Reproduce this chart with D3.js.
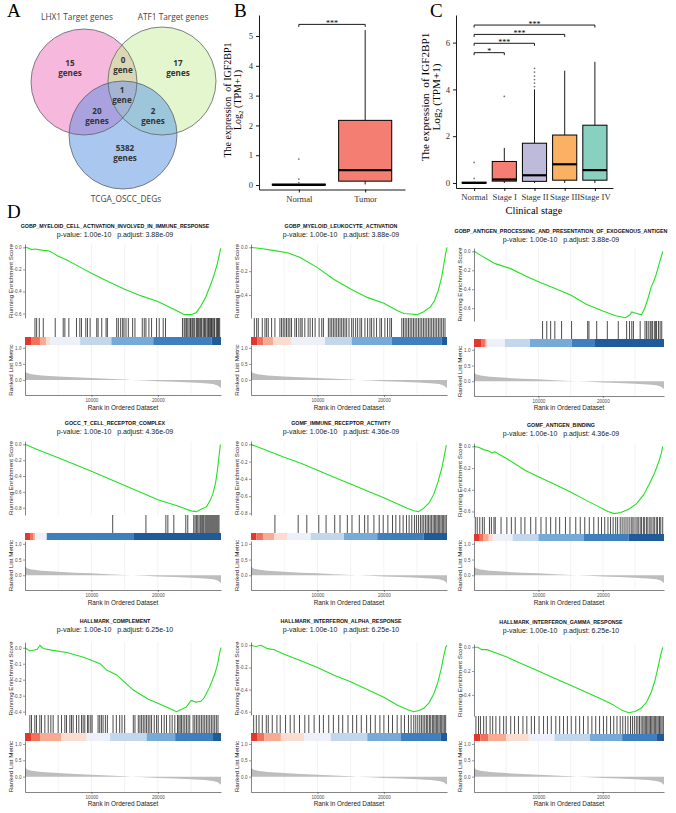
<!DOCTYPE html>
<html>
<head>
<meta charset="utf-8">
<script src="https://cdn.jsdelivr.net/npm/d3@7/dist/d3.min.js"></script>
<style>
html,body{margin:0;padding:0;background:#fff;}
svg{display:block;}
</style>
</head>
<body>
<svg id="fig" width="676" height="813" xmlns="http://www.w3.org/2000/svg"></svg>
<script>
// ======================= DATA =======================
// Panel A – Venn
const vennSetNames = ["LHX1 Target genes", "ATF1 Target genes", "TCGA_OSCC_DEGs"];
const vennRegions  = ["LHX1", "ATF1", "TCGA", "LHX1&ATF1", "LHX1&TCGA", "ATF1&TCGA", "LHX1&ATF1&TCGA"];
const vennCounts   = [15, 17, 5382, 0, 20, 2, 1];

// Panel B
const bGroups = ["Normal", "Tumor"];
const bLow  = [0, 0.02];
const bQ1   = [0, 0.13];
const bMed  = [0.005, 0.5];
const bQ3   = [0.03, 2.17];
const bHigh = [0.05, 5.2];
const bOutliers = [[0.87, 0.2, 0.08], []];
const bYTicks = [0, 1, 2, 3, 4, 5];
const bComparisons = [["Normal", "Tumor", "***", 5.39]];

// Panel C
const cGroups = ["Normal", "Stage I", "Stage II", "Stage III", "Stage IV"];
const cLow  = [0, 0, 0, 0, 0];
const cQ1   = [0, 0.08, 0.07, 0.12, 0.12];
const cMed  = [0.005, 0.15, 0.33, 0.8, 0.55];
const cQ3   = [0.03, 0.92, 1.7, 2.05, 2.47];
const cHigh = [0.05, 1.5, 4.0, 4.8, 5.18];
const cOutliers = [[0.88, 0.2], [3.7], [4.12, 4.27, 4.42, 4.57, 4.74, 4.9], [], []];
const cYTicks = [0, 2, 4, 6];
const cComparisons = [
  ["Normal", "Stage I", "*", 5.57],
  ["Normal", "Stage II", "***", 5.97],
  ["Normal", "Stage III", "***", 6.35],
  ["Normal", "Stage IV", "***", 6.75]
];

// Panel D – GSEA
const gseaTitles = [
  "GOBP_MYELOID_CELL_ACTIVATION_INVOLVED_IN_IMMUNE_RESPONSE",
  "GOBP_MYELOID_LEUKOCYTE_ACTIVATION",
  "GOBP_ANTIGEN_PROCESSING_AND_PRESENTATION_OF_EXOGENOUS_ANTIGEN",
  "GOCC_T_CELL_RECEPTOR_COMPLEX",
  "GOMF_IMMUNE_RECEPTOR_ACTIVITY",
  "GOMF_ANTIGEN_BINDING",
  "HALLMARK_COMPLEMENT",
  "HALLMARK_INTERFERON_ALPHA_RESPONSE",
  "HALLMARK_INTERFERON_GAMMA_RESPONSE"
];
const gseaPValue  = ["1.00e-10","1.00e-10","1.00e-10","1.00e-10","1.00e-10","1.00e-10","1.00e-10","1.00e-10","1.00e-10"];
const gseaPAdjust = ["3.88e-09","3.88e-09","3.88e-09","4.36e-09","4.36e-09","4.36e-09","6.25e-10","6.25e-10","6.25e-10"];
const datasetSize = 29500;
const rankXTicks = [10000, 20000];
const rankGrid = [5000, 10000, 15000, 20000, 25000];
const metricTicks = [0, 0.5, 1.0];
const metricDomain = [-0.47, 1.09];

// ranked list metric (shared by all panels)
const rankedMetric = [[0,0.28],[300,0.22],[1000,0.18],[2500,0.14],[5000,0.11],[7500,0.08],[10000,0.06],[12500,0.035],[15000,0.01],[16000,0.0],[18000,-0.02],[20000,-0.04],[22500,-0.06],[25000,-0.08],[27000,-0.1],[28300,-0.13],[29000,-0.17],[29500,-0.25]];

// running enrichment score curves [rank, ES]
const es1 = [[0,0],[500,-0.005],[1000,-0.02],[1500,-0.015],[2500,-0.025],[3500,-0.03],[4200,-0.05],[5000,-0.08],[6300,-0.115],[8000,-0.17],[10000,-0.235],[12500,-0.31],[15000,-0.38],[17500,-0.44],[20000,-0.49],[22000,-0.55],[23000,-0.58],[24000,-0.61],[25000,-0.61],[25800,-0.59],[26500,-0.53],[27200,-0.45],[27800,-0.36],[28400,-0.26],[28900,-0.16],[29200,-0.08],[29450,-0.01]];
const es2 = [[0,0],[1500,-0.01],[3300,-0.025],[5500,-0.045],[7400,-0.085],[10000,-0.17],[12500,-0.27],[15000,-0.35],[17500,-0.42],[20000,-0.47],[22000,-0.53],[23000,-0.555],[24000,-0.56],[25000,-0.565],[26000,-0.54],[27000,-0.5],[27600,-0.45],[28200,-0.36],[28700,-0.25],[29000,-0.15],[29300,-0.05],[29500,0.0]];
const es3 = [[0,0],[1000,-0.04],[2000,-0.08],[3300,-0.13],[5600,-0.18],[8000,-0.26],[10300,-0.33],[12500,-0.39],[15000,-0.46],[17500,-0.56],[20000,-0.63],[22000,-0.68],[23500,-0.70],[24200,-0.67],[24500,-0.64],[25000,-0.65],[26000,-0.67],[26500,-0.6],[27000,-0.5],[27500,-0.38],[28000,-0.3],[28300,-0.24],[28800,-0.12],[29100,-0.05],[29300,0.0]];
const es4 = [[0,0],[2000,-0.07],[5000,-0.17],[10000,-0.34],[15000,-0.52],[20000,-0.70],[23000,-0.78],[25000,-0.84],[25800,-0.85],[26500,-0.82],[27300,-0.79],[27800,-0.72],[28300,-0.62],[28700,-0.48],[29000,-0.3],[29200,-0.15],[29400,0.0]];
const es5 = [[0,0],[2000,-0.06],[5000,-0.15],[7500,-0.22],[10000,-0.3],[12500,-0.38],[15000,-0.46],[17500,-0.54],[20000,-0.62],[22000,-0.69],[23500,-0.74],[24500,-0.77],[25200,-0.78],[26000,-0.74],[26800,-0.68],[27500,-0.58],[28200,-0.42],[28700,-0.28],[29100,-0.13],[29400,-0.01]];
const es6 = [[0,0],[800,-0.01],[1500,-0.03],[2200,-0.04],[2800,-0.06],[3300,-0.05],[3800,-0.07],[5000,-0.11],[7900,-0.22],[10000,-0.28],[12500,-0.35],[15000,-0.42],[17500,-0.5],[19500,-0.56],[20800,-0.6],[21800,-0.62],[22800,-0.61],[24000,-0.58],[25200,-0.53],[26300,-0.45],[27200,-0.35],[28000,-0.25],[28700,-0.14],[29100,-0.06],[29300,0.0]];
const es7 = [[0,0],[750,-0.02],[1850,-0.01],[2250,0.015],[2750,-0.005],[4000,-0.015],[6300,-0.03],[8800,-0.06],[11300,-0.1],[12300,-0.14],[13800,-0.17],[16300,-0.265],[18500,-0.32],[21300,-0.37],[22800,-0.40],[23600,-0.385],[24300,-0.37],[25000,-0.33],[25700,-0.34],[26500,-0.335],[27000,-0.31],[27800,-0.245],[28600,-0.16],[29000,-0.1],[29300,-0.03],[29500,0.0]];
const es8 = [[0,0],[700,-0.01],[1500,0.0],[2500,-0.03],[3500,-0.04],[5000,-0.08],[7500,-0.14],[10000,-0.2],[12500,-0.27],[15000,-0.33],[17500,-0.4],[20000,-0.47],[22000,-0.54],[23500,-0.58],[24500,-0.6],[25300,-0.59],[26000,-0.57],[26800,-0.52],[27500,-0.44],[28100,-0.34],[28600,-0.22],[29000,-0.1],[29300,-0.02],[29500,0.0]];
const es9 = [[0,0],[600,0.0],[1200,-0.02],[2000,-0.02],[3000,-0.04],[5000,-0.08],[7500,-0.14],[10000,-0.2],[12500,-0.26],[15000,-0.32],[17500,-0.38],[20000,-0.44],[21500,-0.48],[23000,-0.53],[24000,-0.55],[25000,-0.54],[26000,-0.51],[26800,-0.46],[27500,-0.38],[28100,-0.28],[28600,-0.16],[29000,-0.06],[29300,0.0]];

// gene-set hit positions (rank)
const hits1 = [1500,1750,2150,2750,4550,5750,6000,6600,7750,8250,8500,9150,9400,9800,10800,11000,11550,12200,12400,13800,14050,14400,14700,14900,15200,15550,16200,16550,17650,17950,18200,18650,19050,19800,20200,20800,21150,23700,23950,24100,24300,24500,24700,24900,25000,25200,25400,25550,25800,25950,26100,26300,26450,26550,26800,26950,27050,27200,27400,27550,27650,27800,27950,28050,28150,28300,28450,28550,28800,28950,29050,29150,29300];
const hits2 = [500,850,1100,1700,2100,2350,2600,3100,3600,4350,4600,4850,5100,5350,5600,5850,6100,6600,6850,7200,7500,7700,8100,8600,8900,9250,9650,10250,10650,10900,11650,11900,12150,12400,12650,12900,13150,13400,13650,13900,14150,14400,14750,15150,15400,15750,16050,16400,16650,17150,17550,17900,18150,18500,18900,19400,19650,20150,20550,20900,21150,22700,22950,23200,23450,23700,23950,24200,24450,24700,24950,25200,25450,25700,25950,26200,26450,26700,26950,27200,27450,27700,27950,28200,28450,28700,28950,29200];
const hits3 = [10650,11300,11900,12550,13600,15150,17650,17850,19050,20700,22400,23700,24150,24500,24750,25800,26550,26800,27050,27350,27500,27700,28000,28200,28350,28650,28900,29150];
const hits4 = [13200,18200,21200,21500,22400,24200,24500,25400,25600,25800,26000,26200,26400,26600,26750,26900,27100,27250,27400,27550,27700,27850,28000,28150,28300,28450,28600,28750,28900,29050,29200];
const hits5 = [3600,7100,8400,10200,11300,12600,13400,14500,15200,16300,17100,17600,18500,19300,19900,20600,21300,21800,22400,22900,23400,23800,24200,24600,24900,25200,25500,25750,26000,26250,26500,26700,26950,27150,27400,27600,27800,28000,28200,28400,28600,28800,29000,29200,29400];
const hits6 = [200,500,900,1300,1600,2400,2700,3100,3300,4200,5100,5800,6400,7300,7900,8800,9600,10400,11200,11900,12700,13300,14200,14900,15800,16500,17200,17900,18600,19300,19800,20300,20800,21200,21600,22000,22300,22700,23000,23300,23600,23900,24200,24500,24700,25000,25300,25500,25800,26000,26300,26500,26800,27000,27300,27500,27800,28000,28300,28500,28800,29000,29300];
const hits7 = [730,980,1480,1730,2230,2480,2990,3490,3890,4240,4990,5490,6000,6250,6750,7000,7250,7750,8100,8500,8750,9000,9400,9600,9900,10100,11000,11250,11500,11750,12100,12400,13250,13750,14250,14600,15000,16300,16550,17050,17300,17550,17800,18050,18300,18550,18800,19050,19450,19800,20050,20550,20950,21300,21800,22150,22550,22950,23150,23350,23550,23800,24050,24300,24550,24800,25300,25550,25800,26050,26300,26550,26800,27050,27300,27550,27800,28050,28300,28550,28800,29050];
const hits8 = [400,800,1200,1700,2300,2600,3200,3900,4400,5200,5900,6500,7300,8100,8700,9500,10300,10900,11700,12400,13200,13800,14600,15300,15900,16600,17400,18000,18700,19400,20000,20700,21300,22000,22600,23100,23700,24100,24500,24800,25100,25400,25650,25900,26150,26400,26600,26850,27050,27300,27500,27700,27900,28100,28300,28500,28700,28900,29100,29300];
const hits9 = [300,700,1000,1500,1900,2500,2900,3400,4000,4600,5000,5700,6300,6900,7600,8200,8900,9400,10100,10800,11400,12000,12700,13300,13900,14500,15100,15800,16400,17000,17700,18300,18900,19500,20100,20600,21200,21700,22200,22700,23100,23500,23900,24300,24600,24900,25200,25450,25700,25950,26200,26400,26600,26800,27000,27200,27400,27600,27800,28000,28200,28400,28600,28800,29000,29200,29400];

// colour-bar breakpoints (rank) for the 9 metric colour classes
const bar1 = [0,1000,2250,3200,3760,8300,13000,19300,28100,29500];
const bar2 = [0,1000,1860,3360,6120,11140,15150,21170,28700,29500];
const bar3 = [0,1190,1700,1966,1970,4810,8700,15170,18790,29500];
const bar4 = [0,850,1200,1500,1510,3260,3270,3280,16300,29500];
const bar5 = [0,800,1800,3500,5500,9000,14000,19000,26000,29500];
const bar6 = [0,900,1500,2300,3000,6000,10000,17000,24000,29500];
const bar7 = [0,1000,2260,5500,9280,12800,18300,22600,28300,29500];
const bar8 = [0,900,2000,4500,8000,12000,17500,22500,28500,29500];
const bar9 = [0,1000,2200,5000,8500,12500,18000,23000,28300,29500];

// ======================= DRAWING =======================
const svg = d3.select("#fig");
const SERIF = "'Liberation Serif','Times New Roman',Times,serif";
const SANS = "'Liberation Sans',Arial,Helvetica,sans-serif";
const VFONT = "'Open Sans','Noto Sans',sans-serif";

function letter(t, x, y) {
  svg.append("text").attr("x", x).attr("y", y).attr("font-family", SERIF)
     .attr("font-size", 19).attr("fill", "#000").text(t);
}
letter("A", 7, 17); letter("B", 234, 17); letter("C", 430, 17); letter("D", 7, 218);

// ---------- Panel A: Venn ----------
(function () {
  const circles = [{cx: 84, cy: 82, r: 53}, {cx: 162, cy: 81, r: 54}, {cx: 123, cy: 135, r: 54}];
  const fills = ["#F6B8DC", "#E3F6CD", "#A9C7EF"];
  const defs = svg.append("defs");
  circles.forEach((c, i) => defs.append("clipPath").attr("id", "vc" + i)
    .append("circle").attr("cx", c.cx).attr("cy", c.cy).attr("r", c.r));
  const g = svg.append("g");
  const circ = (parent, c, fill, stroke) => parent.append("circle").attr("cx", c.cx).attr("cy", c.cy).attr("r", c.r)
      .attr("fill", fill).attr("stroke", stroke || "none").attr("stroke-width", 0.8);
  circles.forEach((c, i) => circ(g, c, fills[i]));
  circ(g.append("g").attr("clip-path", "url(#vc0)"), circles[1], "#DBD7B3");
  circ(g.append("g").attr("clip-path", "url(#vc0)"), circles[2], "#A9A2DF");
  circ(g.append("g").attr("clip-path", "url(#vc1)"), circles[2], "#9DC6DB");
  circ(g.append("g").attr("clip-path", "url(#vc0)").append("g").attr("clip-path", "url(#vc1)"), circles[2], "#A3B5D3");
  circles.forEach(c => circ(g, c, "none", "#5f6368"));

  const setPos = [[77, 20], [173, 20], [126, 202]];
  vennSetNames.forEach((n, i) => g.append("text").attr("x", setPos[i][0]).attr("y", setPos[i][1])
      .attr("text-anchor", "middle").attr("font-family", VFONT).attr("font-size", 8.3)
      .attr("fill", "#444").text(n));
  const regPos = [[70, 66], [178, 66], [125, 151], [123, 63], [97, 114], [153, 114], [122, 93]];
  vennCounts.forEach((n, i) => {
    const base = {font: VFONT, size: 8.1};
    g.append("text").attr("x", regPos[i][0]).attr("y", regPos[i][1]).attr("text-anchor", "middle")
      .attr("font-family", base.font).attr("font-size", base.size).attr("font-weight", "bold").attr("fill", "#333").text(n);
    g.append("text").attr("x", regPos[i][0]).attr("y", regPos[i][1] + 9.6).attr("text-anchor", "middle")
      .attr("font-family", base.font).attr("font-size", base.size).attr("font-weight", "bold").attr("fill", "#333")
      .text(n <= 1 ? "gene" : "genes");
  });
})();

// ---------- Box plots (B, C) ----------
function styleAxis(a, size) {
  a.attr("font-family", SERIF).attr("font-size", size);
  a.selectAll("text").attr("fill", "#333");
  a.selectAll("line").attr("stroke", "#000").attr("stroke-width", 0.9);
  a.select(".domain").attr("stroke", "#000").attr("stroke-width", 0.9);
}
function drawBox(o) {
  const x = d3.scalePoint().domain(o.groups).range(o.xRange).padding(0.6);
  const y = d3.scaleLinear().domain(o.yDomain).range(o.yRange);
  const bw = x.step() * 0.8;
  const g = svg.append("g");
  o.groups.forEach((gr, i) => {
    const cx = x(gr);
    g.append("line").attr("x1", cx).attr("x2", cx).attr("y1", y(o.high[i])).attr("y2", y(o.q3[i]))
      .attr("stroke", "#000").attr("stroke-width", 0.9);
    g.append("line").attr("x1", cx).attr("x2", cx).attr("y1", y(o.q1[i])).attr("y2", y(o.low[i]))
      .attr("stroke", "#000").attr("stroke-width", 0.9);
    g.append("rect").attr("x", cx - bw / 2).attr("y", y(o.q3[i])).attr("width", bw)
      .attr("height", Math.max(0.5, y(o.q1[i]) - y(o.q3[i]))).attr("fill", o.fills[i])
      .attr("stroke", "#000").attr("stroke-width", 1);
    g.append("line").attr("x1", cx - bw / 2).attr("x2", cx + bw / 2).attr("y1", y(o.med[i])).attr("y2", y(o.med[i]))
      .attr("stroke", "#000").attr("stroke-width", 2.2);
    o.outs[i].forEach(v => g.append("circle").attr("cx", cx).attr("cy", y(v)).attr("r", 0.9).attr("fill", "#777"));
  });
  const ya = g.append("g").attr("transform", `translate(${o.xRange[0]},0)`)
    .call(d3.axisLeft(y).tickValues(o.yTicks).tickFormat(d3.format("d")).tickSize(3).tickSizeOuter(0).tickPadding(3));
  styleAxis(ya, o.tickFont);
  const xa = g.append("g").attr("transform", `translate(0,${o.yRange[0]})`)
    .call(d3.axisBottom(x).tickSize(3).tickSizeOuter(0).tickPadding(3));
  styleAxis(xa, o.tickFont);
  o.comps.forEach(([a, b, lab, v]) => {
    const xa1 = x(a), xb = x(b), yy = y(v);
    g.append("path").attr("d", `M${xa1},${yy + 2.5}V${yy}H${xb}V${yy + 2.5}`)
      .attr("fill", "none").attr("stroke", "#000").attr("stroke-width", 0.9);
    g.append("text").attr("x", (xa1 + xb) / 2).attr("y", yy + 1.5).attr("text-anchor", "middle")
      .attr("font-family", SERIF).attr("font-size", 8).attr("fill", "#000").text(lab);
  });
  const t = g.append("text").attr("transform", `translate(${o.titleX},${o.titleY}) rotate(-90)`)
    .attr("text-anchor", "middle").attr("font-family", SERIF).attr("font-size", o.titleFont).attr("fill", "#000");
  t.append("tspan").attr("x", 0).attr("y", 0).attr("xml:space", "preserve").style("white-space", "pre").text("The expression  of IGF2BP1");
  const l2 = t.append("tspan").attr("x", 0).attr("y", o.titleGap);
  l2.append("tspan").text("Log");
  l2.append("tspan").attr("font-size", o.titleFont * 0.7).attr("dy", 2).text("2");
  l2.append("tspan").attr("dy", -2).text(" (TPM+1)");
  return {x, y, g};
}

drawBox({groups: bGroups, q1: bQ1, med: bMed, q3: bQ3, low: bLow, high: bHigh, outs: bOutliers,
  fills: ["#F47E72", "#F47E72"], xRange: [259, 405], yDomain: [-0.15, 5.705], yRange: [189.5, 15],
  yTicks: bYTicks, comps: bComparisons, tickFont: 8.6, titleX: 231, titleY: 100, titleGap: 9.5, titleFont: 10});

const cPlot = drawBox({groups: cGroups, q1: cQ1, med: cMed, q3: cQ3, low: cLow, high: cHigh, outs: cOutliers,
  fills: ["#F47E72", "#F47E72", "#BEBADA", "#FBB163", "#88D1C1"], xRange: [456, 613], yDomain: [-0.214, 7.18], yRange: [188, 15],
  yTicks: cYTicks, comps: cComparisons, tickFont: 8.7, titleX: 429, titleY: 97, titleGap: 11, titleFont: 11.2});
cPlot.g.append("text").attr("x", 534).attr("y", 214).attr("text-anchor", "middle")
  .attr("font-family", SERIF).attr("font-size", 10.4).attr("fill", "#000").text("Clinical stage");

// ---------- Panel D: GSEA ----------
const esData = [es1, es2, es3, es4, es5, es6, es7, es8, es9];
const hitsData = [hits1, hits2, hits3, hits4, hits5, hits6, hits7, hits8, hits9];
const barData = [bar1, bar2, bar3, bar4, bar5, bar6, bar7, bar8, bar9];
const barColors = ["#e2372c", "#f3705b", "#f8ab92", "#fbdcd1", "#edf0f8", "#c2d6ec", "#76aad8", "#3f7fbf", "#1f5a9c"];
const colX = [[25, 221], [251, 447], [474, 664]];
const geomA = [
  {title: 228, pval: 236.5, es: [244, 318], hit: [318, 337], bar: [337, 345], rank: [345, 395], tick: 402, xlab: 410},
  {title: 425, pval: 433.5, es: [441, 515], hit: [515, 533], bar: [533, 540], rank: [541, 590], tick: 597, xlab: 605},
  {title: 623, pval: 631.5, es: [642, 715], hit: [715, 733], bar: [733, 741], rank: [741, 792], tick: 799, xlab: 806}
];
const geomC = [
  {title: 233, pval: 241.5, es: [248, 321], hit: [321, 339], bar: [339, 347], rank: [347, 396], tick: 402, xlab: 410},
  {title: 427, pval: 435.5, es: [443, 517], hit: [517, 534], bar: [534, 541], rank: [541, 590], tick: 597, xlab: 605},
  {title: 624, pval: 632.5, es: [644, 716], hit: [716, 734], bar: [734, 741], rank: [741, 792], tick: 799, xlab: 806}
];

function gAxisStyle(a) {
  a.attr("font-family", SANS).attr("font-size", 4.6);
  a.selectAll("text").attr("fill", "#4d4d4d");
  a.selectAll("line").attr("stroke", "#333").attr("stroke-width", 0.5);
  a.select(".domain").attr("stroke", "#333").attr("stroke-width", 0.6);
}

function drawGsea(k) {
  const c = k % 3, r = Math.floor(k / 3);
  const G = c === 2 ? geomC[r] : geomA[r];
  const [x0, x1] = colX[c];
  const x = d3.scaleLinear().domain([0, datasetSize]).range([x0, x1]);
  const es = esData[k];
  const ext = d3.extent(es, d => d[1]);
  const pad = (ext[1] - ext[0]) * 0.05;
  const yE = d3.scaleLinear().domain([ext[0] - pad, ext[1] + pad]).range([G.es[1], G.es[0]]);
  const yR = d3.scaleLinear().domain(metricDomain).range([G.rank[1], G.rank[0]]);
  const g = svg.append("g");
  const cx = (x0 + x1) / 2;
  const tcx = cx - 8;

  g.append("text").attr("x", tcx).attr("y", G.title).attr("text-anchor", "middle").attr("font-family", SANS)
    .attr("font-size", 5.3).attr("font-weight", "bold").attr("fill", "#111").text(gseaTitles[k]);
  g.append("text").attr("x", tcx).attr("y", G.pval).attr("text-anchor", "middle").attr("font-family", SANS)
    .attr("font-size", 7).attr("fill", "#222").attr("xml:space", "preserve").style("white-space", "pre")
    .text(`p-value: ${gseaPValue[k]}   p.adjust: ${gseaPAdjust[k]}`);

  rankGrid.forEach(t => {
    [G.es, G.rank].forEach(rg => g.append("line").attr("x1", x(t)).attr("x2", x(t)).attr("y1", rg[0]).attr("y2", rg[1])
      .attr("stroke", "#ebebeb").attr("stroke-width", 0.6));
  });

  g.append("path").datum(es).attr("d", d3.line().x(d => x(d[0])).y(d => yE(d[1])))
    .attr("fill", "none").attr("stroke", "#22e022").attr("stroke-width", 1.1);

  g.selectAll(null).data(hitsData[k]).join("line")
    .attr("x1", d => x(d)).attr("x2", d => x(d)).attr("y1", G.hit[0]).attr("y2", G.hit[1])
    .attr("stroke", "#111").attr("stroke-width", 0.75);

  const br = barData[k];
  for (let i = 0; i < br.length - 1; i++) {
    g.append("rect").attr("x", x(br[i])).attr("y", G.bar[0]).attr("width", Math.max(0, x(br[i + 1]) - x(br[i])))
      .attr("height", G.bar[1] - G.bar[0]).attr("fill", barColors[i]);
  }

  g.append("path").datum(rankedMetric)
    .attr("d", d3.area().x(d => x(d[0])).y0(yR(0)).y1(d => yR(d[1])))
    .attr("fill", "#bdbdbd");

  const aE = g.append("g").attr("transform", `translate(${x0},0)`)
    .call(d3.axisLeft(yE).ticks(4).tickFormat(d => d.toFixed(1)).tickSize(2).tickSizeOuter(0).tickPadding(1.5));
  gAxisStyle(aE);
  const aR = g.append("g").attr("transform", `translate(${x0},0)`)
    .call(d3.axisLeft(yR).tickValues(metricTicks).tickFormat(d => d.toFixed(1)).tickSize(2).tickSizeOuter(0).tickPadding(1.5));
  gAxisStyle(aR);
  const aX = g.append("g").attr("transform", `translate(0,${G.rank[1]})`)
    .call(d3.axisBottom(x).tickValues(rankXTicks).tickFormat(d3.format("d")).tickSize(2).tickSizeOuter(0).tickPadding(1.5));
  gAxisStyle(aX);

  const yt = (label, y) => g.append("text").attr("transform", `translate(${x0 - 12.5},${y}) rotate(-90)`)
    .attr("text-anchor", "middle").attr("font-family", SANS).attr("font-size", 6.2).attr("fill", "#222").text(label);
  yt("Running Enrichment Score", (G.es[0] + G.es[1]) / 2);
  yt("Ranked List Metric", (G.rank[0] + G.rank[1]) / 2);
  g.append("text").attr("x", cx).attr("y", G.xlab).attr("text-anchor", "middle").attr("font-family", SANS)
    .attr("font-size", 6.4).attr("fill", "#222").text("Rank in Ordered Dataset");
}
for (let k = 0; k < 9; k++) drawGsea(k);
</script>
</body>
</html>
